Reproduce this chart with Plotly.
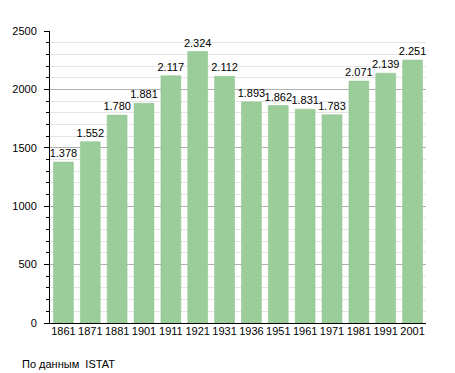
import plotly.graph_objects as go

years = ["1861", "1871", "1881", "1901", "1911", "1921", "1931", "1936", "1951", "1961", "1971", "1981", "1991", "2001"]
population = [1378, 1552, 1780, 1881, 2117, 2324, 2112, 1893, 1862, 1831, 1783, 2071, 2139, 2251]
labels = [f"{v:,}".replace(",", ".") for v in population]

fig = go.Figure(go.Bar(
    x=years, y=population, text=labels, textposition="outside",
    textfont=dict(size=11, color="black", family="Liberation Sans, Arial"),
    marker=dict(color="#9acd99", line=dict(width=0.5, color="#8cc08b")),
    width=0.74, cliponaxis=False, constraintext="none",
))

# page body has an 8px margin; the figure is sized to fit the 455x373 window
fig.update_layout(
    width=447, height=365,
    margin=dict(l=42, r=29, t=23, b=50),
    paper_bgcolor="white", plot_bgcolor="white",
    font=dict(family="Liberation Sans, Arial", size=11, color="black"),
    showlegend=False,
)
fig.update_xaxes(
    type="category", showline=True, linecolor="black", linewidth=1,
    ticks="", showgrid=False, tickfont=dict(size=11), ticklabelstandoff=-2,
    automargin=False,
)
fig.update_yaxes(
    range=[0, 2500], tickvals=[0, 500, 1000, 1500, 2000, 2500],
    showline=True, linecolor="black", linewidth=1,
    ticks="outside", ticklen=5, tickcolor="black",
    showgrid=True, gridcolor="#b0b0b0", gridwidth=1,
    minor=dict(dtick=100, ticks="outside", ticklen=3, tickcolor="black",
               showgrid=True, gridcolor="#e4e4e4", gridwidth=1),
    zeroline=False, tickfont=dict(size=11), ticklabelstandoff=5,
    automargin=False,
)
fig.add_annotation(
    text="По данным  ISTAT", xref="paper", yref="paper",
    x=-0.08, y=-0.113, xanchor="left", yanchor="top",
    showarrow=False, font=dict(size=11, color="black"),
)
fig.write_html("out.html")
